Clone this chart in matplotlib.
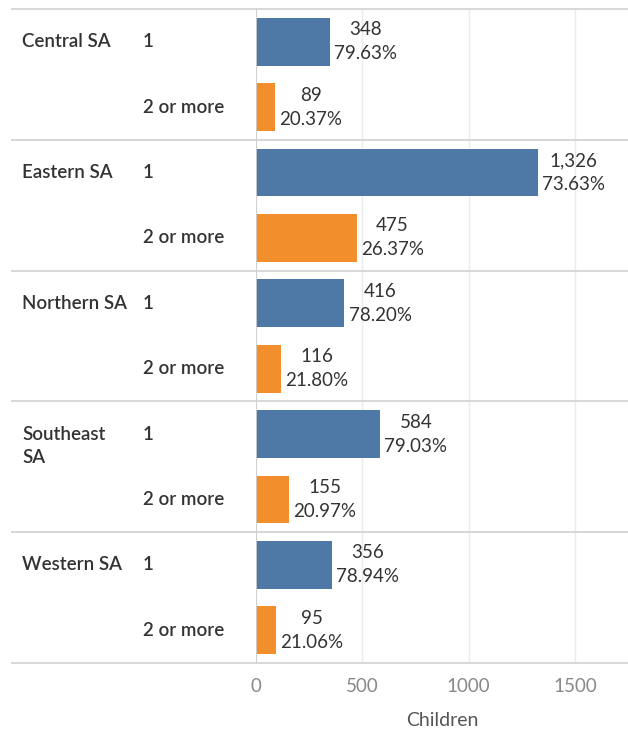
import matplotlib
matplotlib.use("Agg")
import matplotlib.pyplot as plt
from matplotlib.transforms import blended_transform_factory
from matplotlib.lines import Line2D

regions = ["Central SA", "Eastern SA", "Northern SA", "Southeast\nSA", "Western SA"]
groups = ["1", "2 or more"]
counts_one = [348, 1326, 416, 584, 356]
counts_more = [89, 475, 116, 155, 95]
pct_one = [79.63, 73.63, 78.20, 79.03, 78.94]
pct_more = [20.37, 26.37, 21.80, 20.97, 21.06]
xticks = [0, 500, 1000, 1500]
xlabel = "Children"

BLUE = "#4e79a7"
ORANGE = "#f28e2b"
FONT = ["Lato", "DejaVu Sans"]
plt.rcParams['font.family'] = FONT

W, H = 628, 730
fig = plt.figure(figsize=(W / 100, H / 100), dpi=100)
ax_left, ax_right, ax_top, ax_bot = 256, 628, 9, 663
ax = fig.add_axes([ax_left / W, 1 - ax_bot / H, (ax_right - ax_left) / W, (ax_bot - ax_top) / H])

n = len(regions)
ax.set_ylim(2 * n - 0.5, -0.5)
ax.set_xlim(0, 1750)

FS = 13.5
bh = 0.73
for i in range(n):
    y1, y2 = 2 * i, 2 * i + 1
    ax.barh(y1, counts_one[i], height=bh, color=BLUE, zorder=3)
    ax.barh(y2, counts_more[i], height=bh, color=ORANGE, zorder=3)
    for y, c, p in ((y1, counts_one[i], pct_one[i]), (y2, counts_more[i], pct_more[i])):
        ax.annotate(f"{c:,}\n{p:.2f}%", xy=(c, y), xytext=(3, 0), textcoords="offset points",
                    ha="left", va="center", multialignment="center", fontsize=FS,
                    color="#333333", linespacing=1.5, zorder=4)

ax.set_xticks(xticks)
ax.set_xticklabels([str(t) for t in xticks], color="#888888", fontsize=FS)
ax.tick_params(axis="x", length=0, pad=11)
ax.set_yticks([])
for s in ax.spines.values():
    s.set_visible(False)
ax.grid(axis="x", color="#ebebeb", linewidth=1, zorder=0)
ax.set_axisbelow(True)
ax.set_xlabel(xlabel, fontsize=14, color="#555555", labelpad=12)

tr = blended_transform_factory(fig.transFigure, ax.transData)
for i in range(n):
    for j, line in enumerate(regions[i].split("\n")):
        ax.annotate(line, xy=(22 / W, 2 * i), xycoords=tr, xytext=(0, -16.5 * j),
                    textcoords="offset points", ha="left", va="center",
                    fontsize=FS, color="#333333", fontweight="semibold")
    ax.text(143 / W, 2 * i, groups[0], transform=tr, ha="left", va="center",
            fontsize=FS, color="#333333", fontweight="semibold")
    ax.text(143 / W, 2 * i + 1, groups[1], transform=tr, ha="left", va="center",
            fontsize=FS, color="#333333", fontweight="semibold")

# separators
for k in range(n + 1):
    yb = 2 * k - 0.5
    ax.add_line(Line2D([12 / W, 1.0], [yb, yb], transform=tr, color="#d4d4d4",
                       linewidth=1.3, clip_on=False, zorder=5))
# zero line
ax.add_line(Line2D([ax_left / W, ax_left / W], [1 - ax_top / H, 1 - 669 / H],
                   transform=fig.transFigure, color="#cfcfcf", linewidth=1.3, zorder=5))

fig.savefig("out.png", dpi=100)
